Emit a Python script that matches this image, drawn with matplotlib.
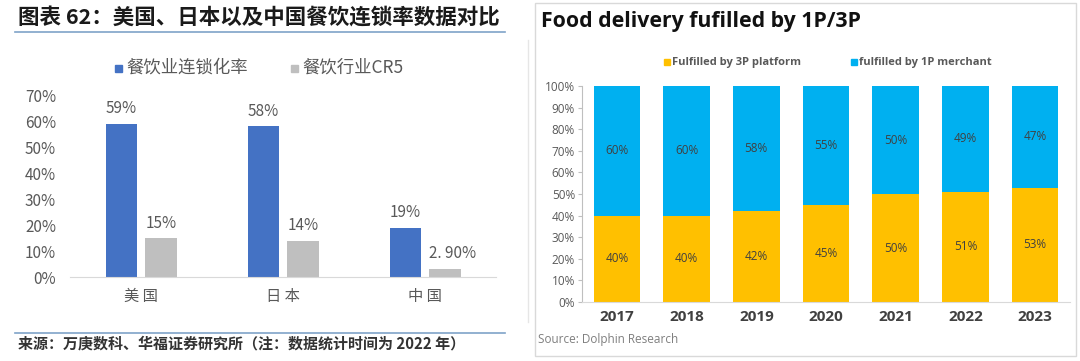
import numpy as np
import matplotlib.pyplot as plt
from matplotlib.patches import Rectangle
from matplotlib.lines import Line2D

plt.rcParams['font.family'] = ['Noto Sans CJK SC', 'DejaVu Sans']

# left chart data
countries = ["美国", "日本", "中国"]
chain_rate = [0.59, 0.58, 0.19]
cr5 = [0.15, 0.14, 0.029]
chain_labels = ["59%", "58%", "19%"]
cr5_labels = ["15%", "14%", "2. 90%"]

# right chart data
years = ["2017", "2018", "2019", "2020", "2021", "2022", "2023"]
platform_3p = [40, 40, 42, 45, 50, 51, 53]
merchant_1p = [60, 60, 58, 55, 50, 49, 47]

W, H = 1080, 361
fig = plt.figure(figsize=(W / 100, H / 100), dpi=100)
fig.patch.set_facecolor("white")


def ax_px(x0, y0, x1, y1):
    # pixel box (top-left origin) -> figure axes
    return fig.add_axes([x0 / W, 1 - y1 / H, (x1 - x0) / W, (y1 - y0) / H])


def fx(x):
    return x / W


def fy(y):
    return 1 - y / H


# ---- left panel decorations
fig.text(fx(18), fy(18), "图表 62：美国、日本以及中国餐饮连锁率数据对比",
         fontsize=15.5, fontweight="bold", color="#1a1a1a", va="center", ha="left")
fig.add_artist(Line2D([fx(15), fx(505)], [fy(32), fy(32)], color="#7fa3c8", lw=1.2))
fig.add_artist(Line2D([fx(15), fx(505)], [fy(333), fy(333)], color="#7fa3c8", lw=1.2))
fig.text(fx(18), fy(344), "来源：万庚数科、华福证券研究所（注：数据统计时间为 2022 年）",
         fontsize=10.8, fontweight="bold", color="#333333", va="center", ha="left")
fig.add_artist(Line2D([fx(528), fx(528)], [fy(40), fy(322)], color="#e6e6e6", lw=1))

blue_l = "#4472C4"
gray_l = "#BFBFBF"
txt_l = "#595959"

axl = ax_px(70, 95, 496, 277)
x = np.arange(len(countries))
w = 0.22
off = 0.14
axl.bar(x - off, chain_rate, w, color=blue_l)
axl.bar(x + off, cr5, w, color=gray_l)
for i in range(len(countries)):
    axl.text(x[i] - off, chain_rate[i] + 0.025, chain_labels[i], ha="center", va="bottom",
             fontsize=11, color=txt_l)
for i in range(len(countries) - 1):
    axl.text(x[i] + off, cr5[i] + 0.025, cr5_labels[i], ha="center", va="bottom",
             fontsize=11, color=txt_l)
axl.text(x[2] + off - 0.11, cr5[2] + 0.03, cr5_labels[2], ha="left", va="bottom",
         fontsize=11, color=txt_l)
axl.set_xlim(-0.5, 2.5)
axl.set_ylim(0, 0.7)
axl.set_yticks(np.arange(0, 0.71, 0.1))
axl.set_yticklabels([f"{int(round(v * 100))}%" for v in np.arange(0, 0.71, 0.1)])
axl.set_xticks(x)
axl.set_xticklabels(["美 国", "日 本", "中 国"])
axl.tick_params(axis="y", length=0, labelsize=11, labelcolor=txt_l, pad=10)
axl.tick_params(axis="x", length=0, labelsize=11, labelcolor=txt_l, pad=8)
for s in ["top", "right", "left"]:
    axl.spines[s].set_visible(False)
axl.spines["bottom"].set_color("#d9d9d9")

# left legend
fig.add_artist(Rectangle((fx(115), fy(72)), 7 / W, 7 / H, color=blue_l))
fig.text(fx(126), fy(68), "餐饮业连锁化率", fontsize=12.5, color=txt_l, va="center")
fig.add_artist(Rectangle((fx(291), fy(72)), 7 / W, 7 / H, color=gray_l))
fig.text(fx(302), fy(68), "餐饮行业CR5", fontsize=12.5, color=txt_l, va="center")

# ---- right panel
fig.add_artist(Rectangle((fx(535), fy(356)), 541 / W, 353 / H, fill=False,
                         edgecolor="#d9d9d9", lw=1))
fig.text(fx(541), fy(21), "Food delivery fufilled by 1P/3P", fontsize=15.3,
         fontweight="bold", color="#111111", va="center", ha="left", family="Open Sans")

orange = "#FFC000"
blue_r = "#00B0F0"
txt_r = "#404040"

axr = ax_px(582, 86, 1070, 302)
xr = np.arange(len(years))
axr.bar(xr, platform_3p, 0.67, color=orange)
axr.bar(xr, merchant_1p, 0.67, bottom=platform_3p, color=blue_r)
for i in range(len(years)):
    axr.text(xr[i], platform_3p[i] / 2, f"{platform_3p[i]}%", ha="center", va="center",
             fontsize=8.5, color=txt_r, family="Open Sans")
    axr.text(xr[i], platform_3p[i] + merchant_1p[i] / 2, f"{merchant_1p[i]}%", ha="center",
             va="center", fontsize=8.5, color=txt_r, family="Open Sans")
axr.set_xlim(-0.5, len(years) - 0.5)
axr.set_ylim(0, 100)
axr.set_yticks(range(0, 101, 10))
axr.set_yticklabels([f"{v}%" for v in range(0, 101, 10)], family="Open Sans")
axr.set_xticks(xr)
axr.set_xticklabels(years, fontweight="bold", family="Open Sans")
axr.tick_params(axis="y", length=3, color="#bfbfbf", labelsize=8.5, labelcolor=txt_l, pad=2)
axr.tick_params(axis="x", length=0, labelsize=11, labelcolor=txt_r, pad=6)
for s in ["top", "right"]:
    axr.spines[s].set_visible(False)
axr.spines["left"].set_color("#bfbfbf")
axr.spines["bottom"].set_color("#d9d9d9")

# right legend
fig.add_artist(Rectangle((fx(664), fy(65)), 6 / W, 6 / H, color=orange))
fig.text(fx(672), fy(62), "Fulfilled by 3P platform", fontsize=8, fontweight="bold",
         color=txt_l, va="center", family="Open Sans")
fig.add_artist(Rectangle((fx(851), fy(65)), 6 / W, 6 / H, color=blue_r))
fig.text(fx(859), fy(62), "fulfilled by 1P merchant", fontsize=8, fontweight="bold",
         color=txt_l, va="center", family="Open Sans")

fig.text(fx(538), fy(340), "Source: Dolphin Research", fontsize=8.5, color="#7f7f7f",
         va="center", family="Open Sans")

fig.savefig("out.png", dpi=100)
